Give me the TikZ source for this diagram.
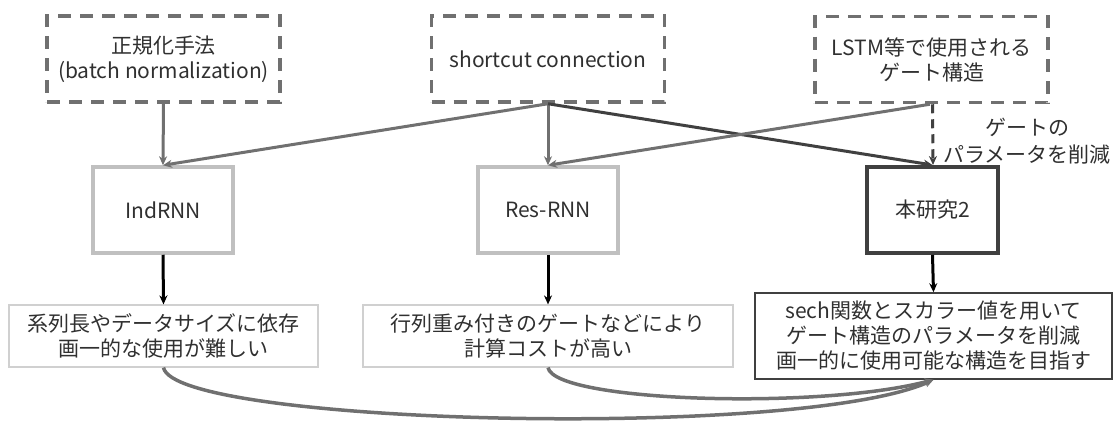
\documentclass[tikz,border=0pt]{standalone}
\usepackage{fontspec}
\setmainfont{Noto Sans CJK JP}
\usetikzlibrary{arrows.meta}
\definecolor{txt}{HTML}{303030}
\definecolor{midgray}{HTML}{707070}
\definecolor{lightgray}{HTML}{C0C0C0}
\definecolor{palegray}{HTML}{D0D0D0}
\definecolor{darkgray}{HTML}{404040}
\tikzset{
  every node/.style={text=txt, font=\fontsize{21}{25}\selectfont, align=center, inner sep=0pt},
  srcbox/.style={draw=midgray, line width=3.5pt, dash pattern=on 13pt off 9pt, minimum width=233pt, minimum height=86pt},
  modelbox/.style={draw=lightgray, line width=3.5pt, minimum width=140pt, minimum height=86pt},
  oursbox/.style={draw=darkgray, line width=4pt, minimum width=131pt, minimum height=86pt},
  notebox/.style={draw=palegray, line width=1.2pt, minimum height=62pt},
  oursnote/.style={draw=darkgray, line width=1.5pt, minimum width=357pt, minimum height=86pt},
  tip/.style={-{Stealth[length=9pt,width=8pt]}},
  grayarrow/.style={tip, draw=midgray, line width=3pt},
  darkarrow/.style={tip, draw=darkgray, line width=3pt},
  blackarrow/.style={tip, draw=black, line width=3pt},
  curvearrow/.style={tip, draw=midgray, line width=3.5pt},
}
\begin{document}
\begin{tikzpicture}[x=1pt,y=-1pt]
\useasboundingbox (0,0) rectangle (1117,421);

% source ideas
\node[srcbox] (bn)   at (163.5,59) {正規化手法\\(batch normalization)};
\node[srcbox] (sc)   at (548,59)   {shortcut connection};
\node[srcbox] (gate) at (931.5,59.5) {LSTM等で使用される\\ゲート構造};

% models
\node[modelbox] (ind) at (163,210)   {IndRNN};
\node[modelbox] (res) at (548,210)   {Res-RNN};
\node[oursbox]  (our) at (932.5,210) {本研究2};

% characteristics
\node[notebox, minimum width=309pt] (indn) at (163.5,336) {系列長やデータサイズに依存\\画一的な使用が難しい};
\node[notebox, minimum width=370pt] (resn) at (548,336)   {行列重み付きのゲートなどにより\\計算コストが高い};
\node[oursnote] (ourn) at (933.5,336) {sech関数とスカラー値を用いて\\ゲート構造のパラメータを削減\\画一的に使用可能な構造を目指す};

% influences
\draw[grayarrow] (bn.south) -- (ind.north);
\draw[grayarrow] (sc.south) -- (ind.north);
\draw[grayarrow] (sc.south) -- (res.north);
\draw[darkarrow] (sc.south) -- (our.north);
\draw[grayarrow] ([xshift=-1.5pt]gate.south) -- (res.north);
\draw[darkarrow, dash pattern=on 9pt off 6pt] ([xshift=1pt]gate.south) -- ([xshift=0.5pt]our.north);
\node (lbl) at (1027,141) {ゲートの\\[2pt]パラメータを削減};

% models to characteristics
\draw[blackarrow] (ind.south) -- (indn.north);
\draw[blackarrow] (res.south) -- (resn.north);
\draw[blackarrow] (our.south) -- (ourn.north);

% problems addressed by this work
\draw[curvearrow] (indn.south) .. controls (175,425) and (800,440) .. (ourn.south);
\draw[curvearrow] (resn.south) .. controls (555,402) and (820,410) .. (ourn.south);
\end{tikzpicture}
\end{document}
